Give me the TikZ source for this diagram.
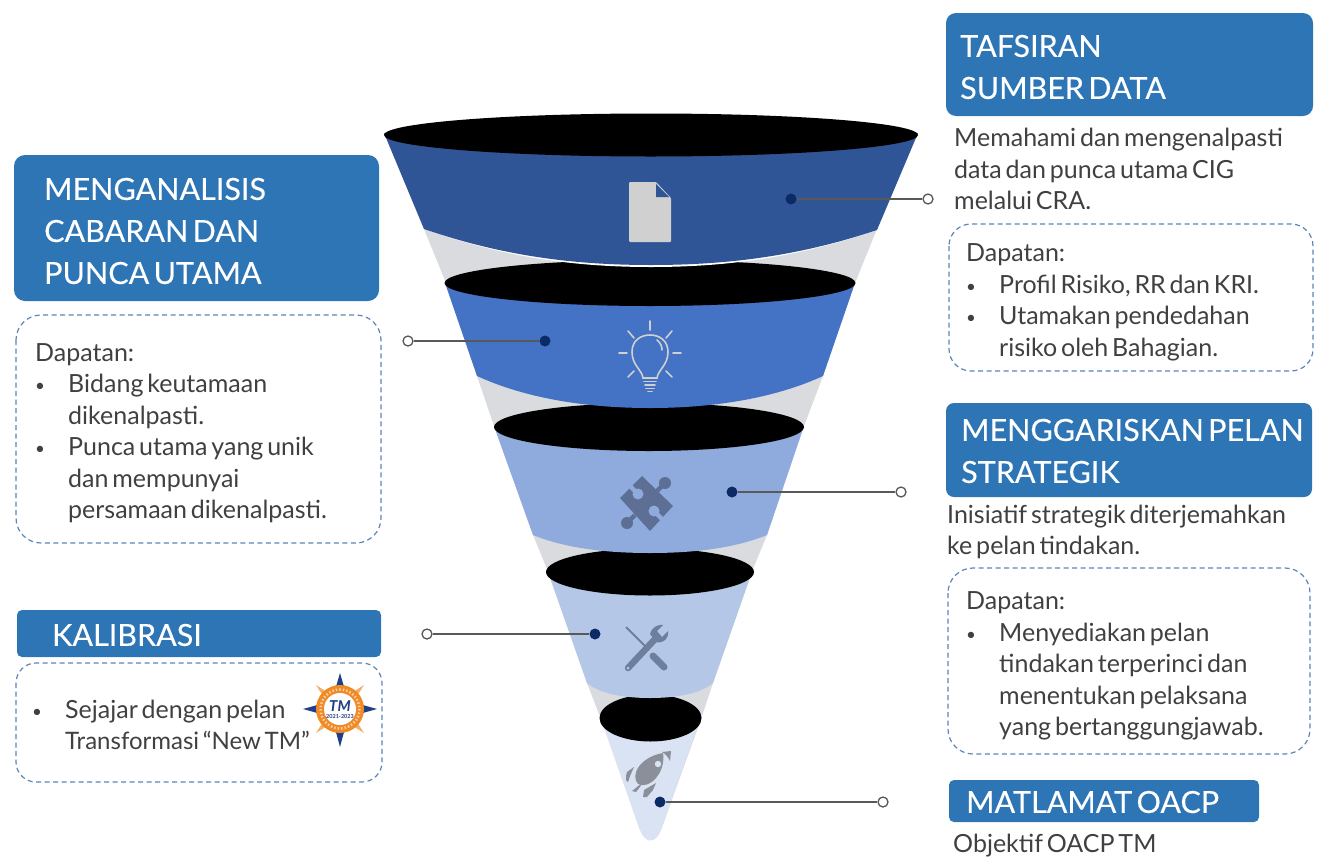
\documentclass[tikz,border=0pt]{standalone}
\usepackage{fontspec}
\setmainfont[WordSpace=0.6]{Lato}
\newfontfamily\headfont[WordSpace=0.55,FakeBold=0.25]{Lato}
\definecolor{bandA}{HTML}{2F5597}
\definecolor{bandB}{HTML}{4472C4}
\definecolor{bandC}{HTML}{8FAADC}
\definecolor{bandD}{HTML}{B4C7E7}
\definecolor{bandE}{HTML}{DAE3F3}
\definecolor{cone}{HTML}{D9DBDF}
\definecolor{head}{HTML}{2E75B6}
\definecolor{dash}{HTML}{5B85B8}
\definecolor{bodytxt}{HTML}{404040}
\definecolor{navy}{HTML}{0B2A66}
\definecolor{lead}{HTML}{595959}
\definecolor{ico}{HTML}{D0D0D0}
\definecolor{orangeT}{HTML}{F08A24}
\definecolor{blueT}{HTML}{1F3F86}
\newcommand{\blt}{\makebox[33pt][l]{\fontsize{17}{17}\selectfont\raisebox{1pt}{•}}}
\newcommand{\ind}{\hspace*{33pt}}
\tikzset{
  x=1pt,y=-1pt,
  headbox/.style={fill=head,rounded corners=#1,draw=none},
  dashbox/.style={draw=dash,line width=1.2pt,dash pattern=on 5pt off 3.5pt,rounded corners=#1},
  headtxt/.style={text=white,inner sep=0pt,anchor=west,align=left,font=\headfont\fontsize{30.5}{42}\selectfont},
  bodytext/.style={text=bodytxt,inner sep=0pt,anchor=west,align=left,font=\fontsize{25}{31.5}\selectfont},
  startdot/.style={circle,fill=navy,minimum size=11pt,inner sep=0pt},
  enddot/.style={circle,fill=white,draw=lead,line width=1.3pt,minimum size=10pt,inner sep=0pt},
  leader/.style={draw=lead,line width=1.4pt},
}
\begin{document}
\begin{tikzpicture}
\useasboundingbox (0,0) rectangle (1320,857);
% cone behind
\fill[cone] (384,133) -- (424,229) -- (446,283) -- (477,376) -- (494,426) -- (533,535) -- (547,569) -- (587,683) -- (602,722) -- (640,830) -- (661,830) -- (700,722) -- (713,683) -- (753,569) -- (767,535) -- (804,426) -- (823,376) -- (855,283) -- (877,229) -- (918,133) -- cycle;
% band 5
\fill[bandE] (602,722) -- (699,722) -- (661,830) .. controls (656,844) and (645,844) .. (640,830) -- cycle;
\fill[black] (650.5,718) ellipse [x radius=51,y radius=23.5];
% band 4
\fill[bandD] (547,569) -- (753,569) -- (713,683) .. controls (700,694) and (675,698) .. (650,698) .. controls (625,698) and (600,694) .. (587,683) -- cycle;
\fill[black] (650,572) ellipse [x radius=104,y radius=23.5];
% band 3
\fill[bandC] (494,426) -- (804,426) -- (767,535) .. controls (735,548) and (695,553) .. (650,553) .. controls (605,553) and (565,548) .. (533,535) -- cycle;
\fill[black] (649,427) ellipse [x radius=155,y radius=24];
% band 2
\fill[bandB] (445,283) -- (855,283) -- (823,376) .. controls (775,398) and (715,408) .. (650,408) .. controls (585,408) and (525,398) .. (477,376) -- cycle;
\fill[black] (650,283) ellipse [x radius=205.5,y radius=23];
% band 1
\fill[white] (424,229) .. controls (500,256) and (570,267) .. (651,267) .. controls (732,267) and (802,256) .. (877,230) -- cycle;
\fill[bandA] (384,133) -- (918,133) -- (877,230) .. controls (802,255) and (732,265) .. (651,265) .. controls (570,265) and (500,255) .. (424,229) -- cycle;
\fill[black] (651,135) ellipse [x radius=267,y radius=21.5];
% document icon
\fill[ico] (629,184) [rounded corners=1pt] -- (629,182) -- (656,182) -- (671,198) -- (671,242) -- (629,242) -- cycle;
\fill[bandA] (656,184) -- (669,197) -- (656,197) -- cycle;
% bulb icon
\begin{scope}[draw=ico,line width=1.6pt,line cap=round]
\draw (643,378) .. controls (642,370) and (632,365) .. (632,352) .. controls (632,341) and (640,335) .. (650,335) .. controls (660,335) and (668,341) .. (668,352) .. controls (668,365) and (658,370) .. (657,378) -- cycle;
\draw (644,381.5) -- (656,381.5) (645,385) -- (655,385) (646,388.5) -- (654,388.5) (648,391.5) -- (652,391.5);
\draw (657,340) .. controls (661,343) and (662,347) .. (662,350);
\draw (650,321) -- (650,330) (672,331) -- (666,338) (673,353) -- (681,353) (666,371) -- (672,377) (619,353) -- (627,353) (628,331) -- (634,338) (634,371) -- (628,377);
\end{scope}
% puzzle icon
\begin{scope}
\definecolor{pz}{HTML}{5D6F94}
\fill[pz] (642,476) -- (673,506) -- (650,531) -- (620,498) -- cycle;
\draw[pz,line width=4.5pt] (657,491) -- (664,484);
\fill[pz] (665,483) circle [radius=6];
\draw[pz,line width=4.5pt] (635,515) -- (628,522);
\fill[pz] (627,523) circle [radius=6];
\draw[bandC,line width=4.5pt] (630,486) -- (636,492);
\fill[bandC] (638,494) circle [radius=5.5];
\draw[bandC,line width=4.5pt] (662,519) -- (656,513);
\fill[bandC] (654,511) circle [radius=5.5];
\end{scope}
% tools icon
\begin{scope}
\definecolor{tl}{HTML}{6E7F9E}
\draw[tl,line width=1.8pt] (626,627) -- (646,647);
\draw[tl,line width=7pt,line cap=round] (653,656) -- (664,667);
\draw[tl,line width=6.5pt,line cap=round] (628,668) -- (657,637);
\fill[bandD] (628,668) circle [radius=1.5];
\fill[tl] (656,642) -- (650,634) .. controls (652,626) and (660,624) .. (663,625) -- (657,631) -- (662,637) -- (668,631) .. controls (669,638) and (664,644) .. (656,642) -- cycle;
\end{scope}
% rocket icon
\begin{scope}
\definecolor{rk}{HTML}{8A8F99}
\fill[rk] (638,784) .. controls (630,775) and (640,757) .. (663,753) .. controls (666,772) and (650,790) .. (638,784) -- cycle;
\fill[bandE] (658,764) circle [radius=3.2];
\fill[rk] (662,752) -- (671,751) -- (670,761) .. controls (668,757) and (666,754) .. (662,752) -- cycle;
\fill[rk] (627,772) -- (634,767) -- (630,776) -- (628,782) -- (626,780) -- (626,776) -- cycle;
\fill[rk] (632,791) -- (642,783) -- (640,787) -- (636,792) -- cycle;
\fill[rk] (643,797) -- (644,790) -- (656,783) -- (653,790) -- (647,797) -- cycle;
\end{scope}
% connectors
\node[startdot] (d1) at (791,199) {};
\node[enddot] (e1) at (928,199) {};
\draw[leader] (d1) -- (e1);
\node[startdot] (d2) at (545,341) {};
\node[enddot] (e2) at (408,341) {};
\draw[leader] (d2) -- (e2);
\node[startdot] (d3) at (732,492) {};
\node[enddot] (e3) at (901,492) {};
\draw[leader] (d3) -- (e3);
\node[startdot] (d4) at (595,634) {};
\node[enddot] (e4) at (427,634) {};
\draw[leader] (d4) -- (e4);
\node[startdot] (d5) at (660,802) {};
\node[enddot] (e5) at (883,802) {};
\draw[leader] (d5) -- (e5);
% heading boxes
\fill[headbox=10pt] (946,13) rectangle (1313,116);
\node[headtxt] (h1) at (960,67) {TAFSIRAN\\SUMBER DATA};
\fill[headbox=11pt] (14,155) rectangle (379,301);
\node[headtxt] (h2) at (44,231) {MENGANALISIS\\CABARAN DAN\\PUNCA UTAMA};
\fill[headbox=8pt] (946,403) rectangle (1312,497);
\node[headtxt] (h3) at (961,451) {MENGGARISKAN PELAN\\STRATEGIK};
\fill[headbox=5pt] (17,610) rectangle (381,657);
\node[headtxt] (h4) at (52,635) {KALIBRASI};
\fill[headbox=5pt] (949,780) rectangle (1259,822);
\node[headtxt] (h5) at (966,802) {MATLAMAT OACP};
% dashed boxes
\draw[dashbox=25pt] (16,315) rectangle (381,543);
\draw[dashbox=20pt] (16,663) rectangle (382,782);
\draw[dashbox=22pt] (949,224) rectangle (1313,371);
\draw[dashbox=25pt] (948,568) rectangle (1310,754);
% body text
\node[bodytext] (t1) at (954,169) {Memahami dan mengenalpasti\\data dan punca utama CIG\\melalui CRA.};
\node[bodytext] (t2) at (966,302.5) {Dapatan:\\\blt Profil Risiko, RR dan KRI.\\\blt Utamakan pendedahan\\\ind risiko oleh Bahagian.};
\node[bodytext] (t3) at (947,532) {Inisiatif strategik diterjemahkan\\ke pelan tindakan.};
\node[bodytext] (t4) at (966,666) {Dapatan:\\\blt Menyediakan pelan\\\ind tindakan terperinci dan\\\ind menentukan pelaksana\\\ind yang bertanggungjawab.};
\node[bodytext] (t5) at (953,846) {Objektif OACP TM};
\node[bodytext] (t6) at (35,433) {Dapatan:\\\blt Bidang keutamaan\\\ind dikenalpasti.\\\blt Punca utama yang unik\\\ind dan mempunyai\\\ind persamaan dikenalpasti.};
\node[bodytext] (t7) at (32,725) {\blt Sejajar dengan pelan\\\ind\fontsize{24}{31.5}\selectfont Transformasi “New TM”};
% logo
\fill[blueT] (340,673) -- (347,697) -- (333,697) -- cycle;
\fill[blueT] (340,747) -- (347,721) -- (333,721) -- cycle;
\fill[blueT] (377,709) -- (352,702) -- (352,716) -- cycle;
\fill[blueT] (303,709) -- (328,702) -- (328,716) -- cycle;
\fill[orangeT!70] (316,685) -- (327,692) -- (323,696) -- cycle;
\fill[orangeT!70] (364,685) -- (353,692) -- (357,696) -- cycle;
\fill[orangeT!70] (316,733) -- (327,726) -- (323,722) -- cycle;
\fill[orangeT!70] (364,733) -- (353,726) -- (357,722) -- cycle;
\fill[orangeT] (340,709) circle [radius=24];
\draw[white!60!orangeT,line width=2.5pt,dash pattern=on 1.5pt off 2pt] (340,709) circle [radius=19.5];
\fill[white] (340,709) circle [radius=16];
\node[inner sep=0pt,text=blueT,font=\fontsize{15}{15}\selectfont\bfseries\itshape] (lg1) at (340,706) {TM};
\node[inner sep=0pt,text=blueT,font=\fontsize{5.5}{6}\selectfont\bfseries] (lg2) at (340,717) {2021-2023};
\end{tikzpicture}
\end{document}
